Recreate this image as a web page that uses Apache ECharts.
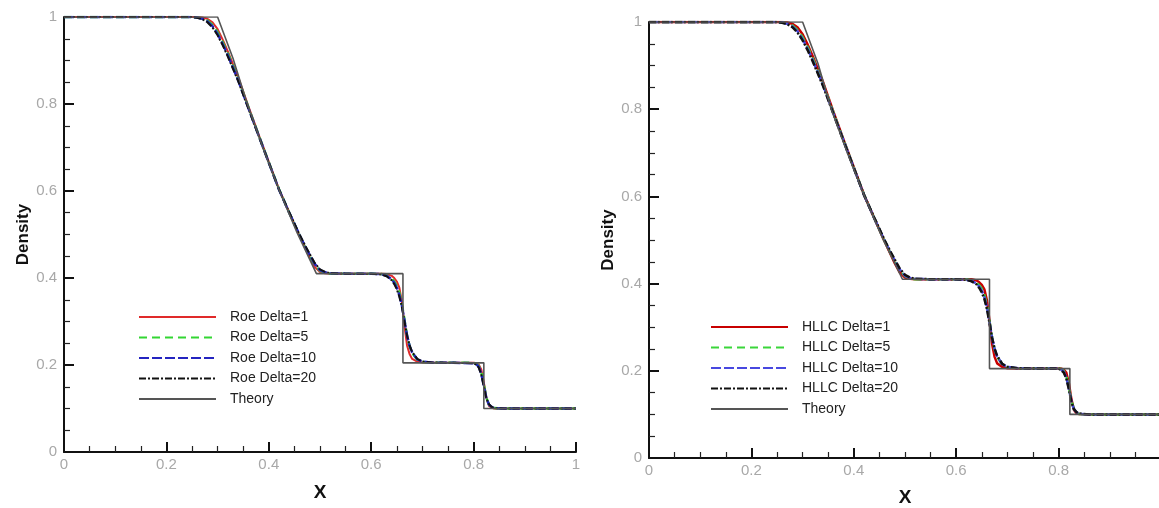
<!DOCTYPE html>
<html>
<head>
<meta charset="utf-8">
<script src="https://cdn.jsdelivr.net/npm/echarts@6/dist/echarts.min.js"></script>
<style>
  html, body { margin: 0; padding: 0; background: #fff; }
  #chart { width: 1159px; height: 508px; }
</style>
</head>
<body>
<div id="chart"></div>
<script>
// Sample positions shared by the numerical solutions
const xNum = [
  0, 0.1, 0.2, 0.25, 0.26, 0.27, 0.28, 0.29, 0.30, 0.31,
  0.32, 0.34, 0.36, 0.38, 0.40, 0.42, 0.44, 0.46, 0.47, 0.48,
  0.49, 0.50, 0.51, 0.52, 0.55, 0.60, 0.62, 0.63, 0.64, 0.645,
  0.65, 0.655, 0.66, 0.665, 0.67, 0.675, 0.68, 0.69, 0.70, 0.72,
  0.76, 0.80, 0.805, 0.81, 0.815, 0.82, 0.825, 0.83, 0.835, 0.84,
  0.86, 0.90, 0.95, 1.0
];

// Roe scheme densities
const roe1 = [
  1, 1, 1, 1, 1, 0.999, 0.996, 0.988, 0.972, 0.948,
  0.921, 0.862, 0.795, 0.730, 0.667, 0.604, 0.550, 0.497, 0.472, 0.447,
  0.425, 0.414, 0.411, 0.410, 0.410, 0.410, 0.410, 0.409, 0.405, 0.400,
  0.392, 0.378, 0.345, 0.290, 0.245, 0.225, 0.214, 0.208, 0.206, 0.205,
  0.205, 0.205, 0.204, 0.201, 0.190, 0.160, 0.125, 0.106, 0.102, 0.100,
  0.100, 0.100, 0.100, 0.100
];
const roe5 = [
  1, 1, 1, 1, 0.999, 0.997, 0.992, 0.982, 0.965, 0.942,
  0.916, 0.858, 0.793, 0.729, 0.666, 0.604, 0.550, 0.498, 0.474, 0.451,
  0.430, 0.417, 0.412, 0.410, 0.410, 0.410, 0.409, 0.406, 0.399, 0.392,
  0.382, 0.366, 0.340, 0.304, 0.268, 0.243, 0.228, 0.212, 0.207, 0.205,
  0.205, 0.205, 0.203, 0.198, 0.183, 0.155, 0.125, 0.109, 0.103, 0.101,
  0.100, 0.100, 0.100, 0.100
];
const roe10 = [
  1, 1, 1, 1, 0.999, 0.996, 0.990, 0.979, 0.961, 0.938,
  0.912, 0.855, 0.791, 0.728, 0.665, 0.603, 0.550, 0.499, 0.475, 0.453,
  0.432, 0.418, 0.413, 0.411, 0.410, 0.410, 0.409, 0.405, 0.397, 0.389,
  0.378, 0.361, 0.336, 0.302, 0.268, 0.244, 0.229, 0.213, 0.208, 0.205,
  0.205, 0.204, 0.202, 0.196, 0.180, 0.152, 0.124, 0.109, 0.104, 0.101,
  0.100, 0.100, 0.100, 0.100
];
const roe20 = [
  1, 1, 1, 1, 0.998, 0.995, 0.988, 0.976, 0.958, 0.935,
  0.909, 0.853, 0.790, 0.727, 0.665, 0.603, 0.551, 0.500, 0.477, 0.455,
  0.434, 0.420, 0.414, 0.411, 0.410, 0.410, 0.408, 0.404, 0.395, 0.386,
  0.374, 0.357, 0.333, 0.300, 0.268, 0.245, 0.230, 0.214, 0.208, 0.206,
  0.205, 0.204, 0.201, 0.194, 0.178, 0.150, 0.123, 0.110, 0.104, 0.101,
  0.100, 0.100, 0.100, 0.100
];

// HLLC scheme densities
const hllc1 = [
  1, 1, 1, 1, 1, 0.999, 0.996, 0.988, 0.972, 0.948,
  0.921, 0.862, 0.795, 0.730, 0.667, 0.604, 0.550, 0.497, 0.472, 0.447,
  0.425, 0.414, 0.411, 0.410, 0.410, 0.410, 0.410, 0.410, 0.407, 0.403,
  0.397, 0.387, 0.362, 0.315, 0.262, 0.232, 0.217, 0.209, 0.206, 0.205,
  0.205, 0.205, 0.205, 0.203, 0.196, 0.172, 0.135, 0.110, 0.103, 0.101,
  0.100, 0.100, 0.100, 0.100
];
const hllc5 = [
  1, 1, 1, 1, 0.999, 0.997, 0.992, 0.982, 0.965, 0.942,
  0.916, 0.858, 0.793, 0.729, 0.666, 0.604, 0.550, 0.498, 0.474, 0.451,
  0.430, 0.417, 0.412, 0.410, 0.410, 0.410, 0.410, 0.407, 0.402, 0.396,
  0.388, 0.374, 0.351, 0.315, 0.277, 0.249, 0.232, 0.214, 0.208, 0.206,
  0.205, 0.205, 0.204, 0.200, 0.188, 0.163, 0.132, 0.112, 0.104, 0.101,
  0.100, 0.100, 0.100, 0.100
];
const hllc10 = [
  1, 1, 1, 1, 0.999, 0.996, 0.990, 0.979, 0.961, 0.938,
  0.912, 0.855, 0.791, 0.728, 0.665, 0.603, 0.550, 0.499, 0.475, 0.453,
  0.432, 0.418, 0.413, 0.411, 0.410, 0.410, 0.409, 0.406, 0.400, 0.393,
  0.384, 0.369, 0.346, 0.312, 0.277, 0.250, 0.233, 0.215, 0.209, 0.206,
  0.205, 0.205, 0.203, 0.198, 0.185, 0.160, 0.130, 0.112, 0.105, 0.101,
  0.100, 0.100, 0.100, 0.100
];
const hllc20 = [
  1, 1, 1, 1, 0.998, 0.995, 0.988, 0.976, 0.958, 0.935,
  0.909, 0.853, 0.790, 0.727, 0.665, 0.603, 0.551, 0.500, 0.477, 0.455,
  0.434, 0.420, 0.414, 0.411, 0.410, 0.410, 0.409, 0.405, 0.398, 0.390,
  0.380, 0.365, 0.342, 0.310, 0.276, 0.251, 0.234, 0.216, 0.209, 0.206,
  0.205, 0.205, 0.202, 0.196, 0.183, 0.158, 0.129, 0.112, 0.105, 0.102,
  0.100, 0.100, 0.100, 0.100
];

// Exact solutions
const theoryRoeX = [0, 0.30, 0.33, 0.358, 0.39, 0.421, 0.455, 0.493, 0.662, 0.662, 0.820, 0.820, 1.0];
const theoryRoeY = [1, 1, 0.905, 0.80, 0.695, 0.60, 0.505, 0.41, 0.41, 0.205, 0.205, 0.10, 0.10];
const theoryHllcX = [0, 0.30, 0.33, 0.356, 0.389, 0.421, 0.456, 0.495, 0.665, 0.665, 0.822, 0.822, 1.0];
const theoryHllcY = [1, 1, 0.905, 0.80, 0.695, 0.60, 0.505, 0.41, 0.41, 0.205, 0.205, 0.10, 0.10];

const roeNames = ['Roe Delta=1', 'Roe Delta=5', 'Roe Delta=10', 'Roe Delta=20', 'Theory'];
const hllcNames = ['HLLC Delta=1', 'HLLC Delta=5', 'HLLC Delta=10', 'HLLC Delta=20', 'Theory'];

const zip = (xs, ys) => xs.map((x, i) => [x, ys[i]]);

const FONT = '"Liberation Sans", Arial, sans-serif';

function xAxisFor(idx, gap, showMax) {
  return {
    gridIndex: idx, type: 'value', min: 0, max: 1, interval: 0.2,
    name: 'X', nameLocation: 'middle', nameGap: gap,
    nameTextStyle: { fontFamily: FONT, fontWeight: 'bold', fontSize: 19, color: '#111' },
    axisLine: { show: true, onZero: false, lineStyle: { color: '#111', width: 2 } },
    axisTick: { show: true, inside: true, length: 10, lineStyle: { color: '#111', width: 2 } },
    minorTick: { show: true, splitNumber: 4, length: 6, lineStyle: { color: '#222', width: 1.2 } },
    axisLabel: { fontFamily: FONT, fontSize: 15, color: '#a8a8a8', margin: 5,
      showMaxLabel: showMax,
      formatter: v => String(+v.toFixed(1)) },
    splitLine: { show: false }
  };
}
function yAxisFor(idx, gap) {
  return {
    gridIndex: idx, type: 'value', min: 0, max: 1, interval: 0.2,
    name: 'Density', nameLocation: 'middle', nameGap: gap,
    nameTextStyle: { fontFamily: FONT, fontWeight: 'bold', fontSize: 17, color: '#111' },
    axisLine: { show: true, onZero: false, lineStyle: { color: '#111', width: 2 } },
    axisTick: { show: true, inside: true, length: 10, lineStyle: { color: '#111', width: 2 } },
    minorTick: { show: true, splitNumber: 4, length: 6, lineStyle: { color: '#222', width: 1.2 } },
    axisLabel: { fontFamily: FONT, fontSize: 15, color: '#a8a8a8', margin: 7,
      formatter: v => String(+v.toFixed(1)) },
    splitLine: { show: false }
  };
}

function numSeries(name, idx, ys, color, width, type) {
  return {
    name, type: 'line', xAxisIndex: idx, yAxisIndex: idx,
    data: zip(xNum, ys), symbol: 'none', smooth: false,
    lineStyle: { color, width, type }, itemStyle: { color }, z: 3
  };
}
function theorySeries(idx, xs, ys) {
  return {
    name: 'Theory', type: 'line', xAxisIndex: idx, yAxisIndex: idx,
    data: zip(xs, ys), symbol: 'none',
    lineStyle: { color: '#555', width: 1.6 }, itemStyle: { color: '#555' }, z: 4
  };
}

// Legend keys show only the line sample, no marker
function legendAt(left, top, names) {
  return {
    data: names, orient: 'vertical', left, top,
    itemWidth: 77, itemHeight: 14, itemGap: 6.5,
    itemStyle: { opacity: 0 },
    textStyle: { fontFamily: FONT, fontSize: 14, color: '#222', padding: [0, 0, 0, 9] },
    selectedMode: false
  };
}

const chart = echarts.init(document.getElementById('chart'), null, { renderer: 'canvas' });
chart.setOption({
  animation: false,
  backgroundColor: '#fff',
  grid: [
    { left: 64, top: 17, width: 512, bottom: 56, outerBoundsMode: 'none' },
    { left: 649, top: 22, width: 512, bottom: 50, outerBoundsMode: 'none' }
  ],
  xAxis: [xAxisFor(0, 31, true), xAxisFor(1, 30, false)],
  yAxis: [yAxisFor(0, 32), yAxisFor(1, 32)],
  legend: [legendAt(133, 305, roeNames), legendAt(705, 315, hllcNames)],
  series: [
    numSeries(roeNames[0], 0, roe1, '#e02a2a', 2, 'solid'),
    numSeries(roeNames[1], 0, roe5, '#33d633', 2.5, [8, 5]),
    numSeries(roeNames[2], 0, roe10, '#2424c0', 2.5, [10, 3]),
    numSeries(roeNames[3], 0, roe20, '#111', 2, [7, 2, 2, 2]),
    theorySeries(0, theoryRoeX, theoryRoeY),
    numSeries(hllcNames[0], 1, hllc1, '#c80000', 2.5, 'solid'),
    numSeries(hllcNames[1], 1, hllc5, '#3ad63a', 2.5, [8, 5]),
    numSeries(hllcNames[2], 1, hllc10, '#4848e0', 2.5, [10, 3]),
    numSeries(hllcNames[3], 1, hllc20, '#111', 2.5, [7, 2, 2, 2]),
    theorySeries(1, theoryHllcX, theoryHllcY)
  ]
});
</script>
</body>
</html>
